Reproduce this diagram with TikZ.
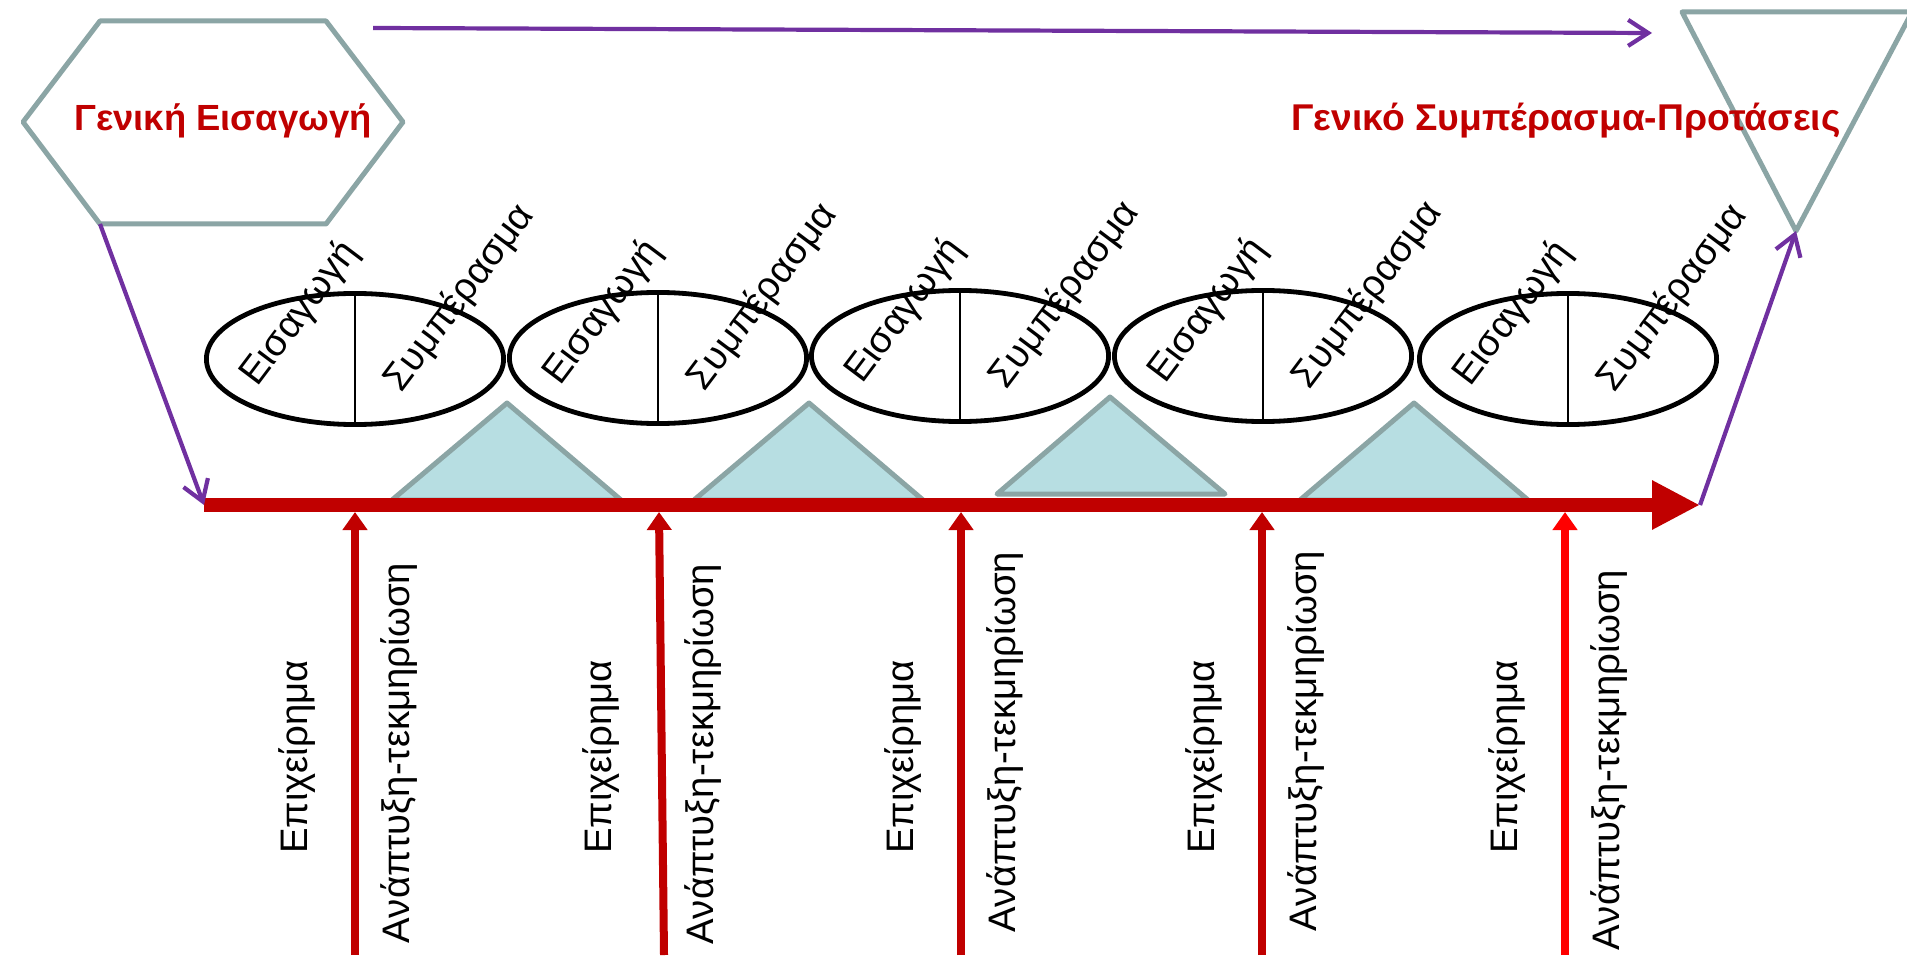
\documentclass[tikz,border=0pt]{standalone}
\usepackage{fontspec}
\setmainfont{Liberation Sans}
\usetikzlibrary{arrows.meta,shapes.geometric,calc}

\definecolor{framegray}{HTML}{8BA5A5}
\definecolor{wedgefill}{HTML}{B7DEE2}
\definecolor{darkred}{HTML}{C00000}
\definecolor{flowviolet}{HTML}{7030A0}

\begin{document}
\begin{tikzpicture}[x=0.01cm,y=-0.01cm,
  outline/.style={draw=framegray, line width=0.05cm, line join=round},
  wedge/.style={outline, fill=wedgefill},
  phase/.style={draw, ellipse, line width=0.048cm, minimum width=2.97cm, minimum height=1.31cm, inner sep=0pt},
  lbl/.style={font=\fontsize{10.9}{13}\selectfont, inner sep=0pt},
  headline/.style={font=\bfseries\fontsize{#1}{13}\selectfont, text=darkred, inner sep=0pt},
  flow/.style={draw=flowviolet, line width=0.042cm, -{Straight Barb[length=0.2cm,width=0.26cm]}},
  spine/.style={draw=darkred, line width=0.14cm, -{Triangle[length=0.48cm,width=0.46cm]}},
  prop/.style={draw=#1, line width=0.08cm, -{Triangle[length=0.18cm,width=0.24cm]}},
  prop/.default=darkred]
\useasboundingbox (0,0) rectangle (1907,955);

% general introduction and conclusion
\draw[outline] (23,122) coordinate (hexW) -- (100,21) -- (326,21) -- (403,122)
  -- (326,224) -- (100,224) coordinate (hexSW) -- cycle;
\node[headline=10.35] (intro) at (223,121) {Γενική Εισαγωγή};
\draw[outline] (1682,12) -- (1912,12) -- (1796,231) coordinate (triS) -- cycle;
\node[headline=10.6] (concl) at (1566,121) {Γενικό Συμπέρασμα-Προτάσεις};

% main axis
\coordinate (axisL) at (204,505);
\coordinate (axisR) at (1700,505);
\coordinate (topL) at (373,28);
\coordinate (topR) at (1652,33);

\foreach \a/\l/\r/\y in {507/392/621/500, 809/694/923/500, 1110/997/1225/494, 1414/1300/1528/500}
  \draw[wedge] (\l,\y) -- (\a,\y-97) -- (\r,\y) -- cycle;

\draw[spine] (axisL) -- (axisR);
\draw[flow] (topL) -- (topR);
\draw[flow] (hexSW) -- (axisL);
\draw[flow] (axisR) -- (triS);

% sections
\foreach \i/\x/\y in {1/355/359, 2/658/358, 3/960/356, 4/1263/356, 5/1568/359} {
  \node[phase] (e\i) at (\x,\y) {};
  \draw[line width=0.025cm] (e\i.north) -- (e\i.south);
  \node[lbl, rotate=53] (in\i) at ($(e\i)+(-55,-45)$) {Εισαγωγή};
  \node[lbl, rotate=53] (out\i) at ($(e\i)+(105,-61)$) {Συμπέρασμα};
}

% arguments
\foreach \i/\xt/\xb/\c/\ya in {1/355/355/darkred/753, 2/659/664/darkred/754, 3/961/961/darkred/742, 4/1262/1262/darkred/741, 5/1565/1565/red/760} {
  \coordinate (bot\i) at (\xb,955);
  \coordinate (tip\i) at (\xt,512);
  \draw[prop=\c] (bot\i) -- (tip\i);
  \node[lbl, rotate=90] (arg\i) at (\xt-58,757) {Επιχείρημα};
  \node[lbl, rotate=90] (dev\i) at (\xt+44,\ya) {Ανάπτυξη-τεκμηρίωση};
}
\end{tikzpicture}
\end{document}
